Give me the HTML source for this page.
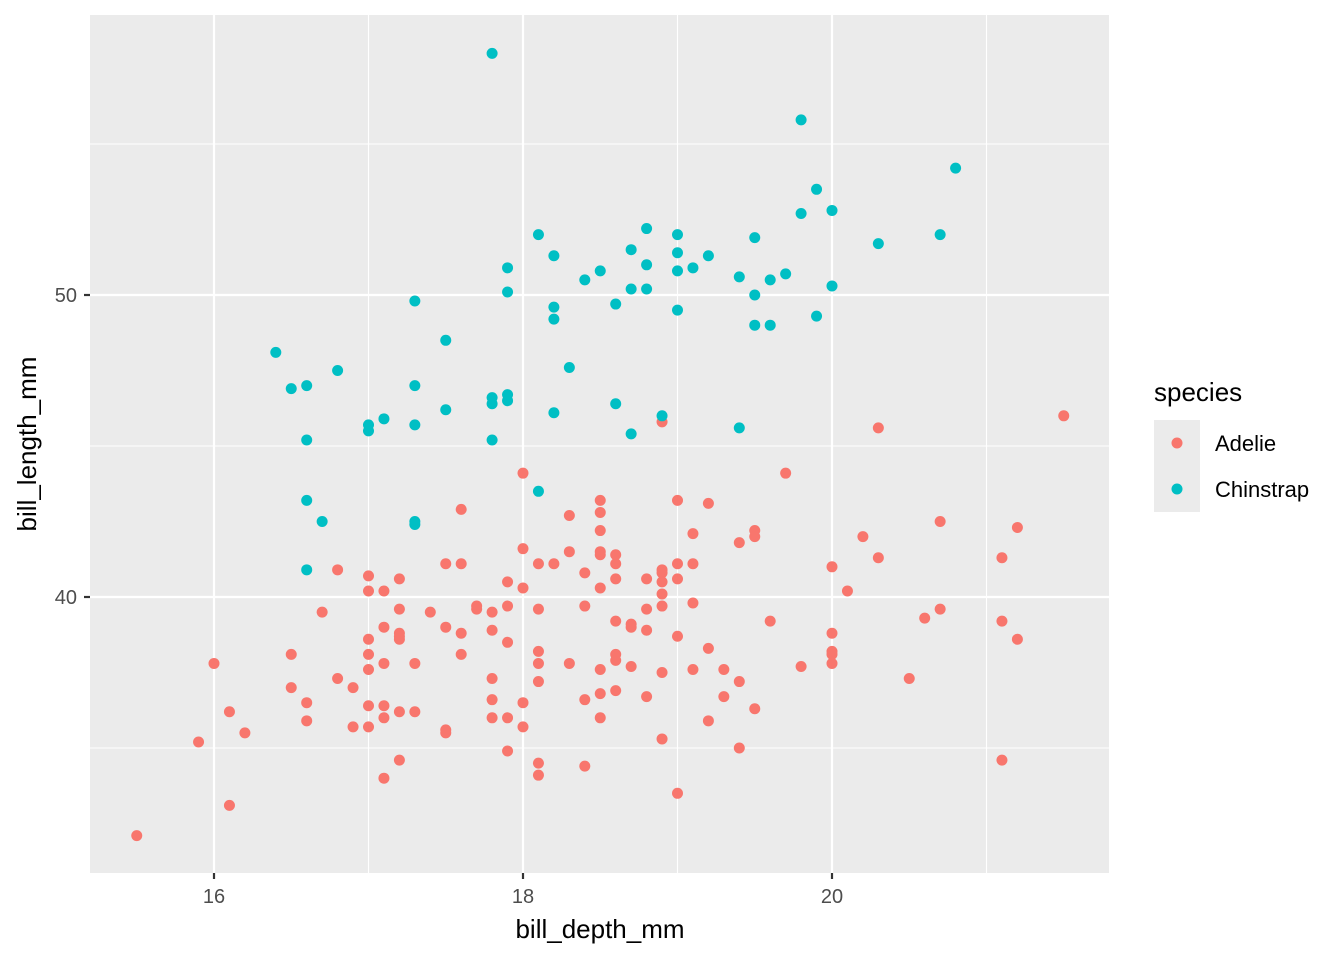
<!DOCTYPE html>
<html><head><meta charset="utf-8"><style>
body{margin:0;background:#fff;}
svg text{font-family:"Liberation Sans",Arial,sans-serif;}
</style></head><body>
<svg id="chart" width="1344" height="960" xmlns="http://www.w3.org/2000/svg">
<rect x="90" y="15" width="1019" height="858" fill="#EBEBEB"/>
<g id="grid"></g>
<g id="points"></g>
<g id="axes"></g>
<text x="600" y="938" font-size="26" text-anchor="middle" fill="#000">bill_depth_mm</text>
<text transform="translate(36,444) rotate(-90)" font-size="26" text-anchor="middle" fill="#000">bill_length_mm</text>
<g>
<text x="1154" y="401" font-size="26" fill="#000">species</text>
<rect x="1154" y="420" width="46" height="92" fill="#EBEBEB"/>
<circle cx="1177" cy="443" r="5.5" fill="#F8766D"/>
<circle cx="1177" cy="489" r="5.5" fill="#00BFC4"/>
<text x="1215" y="451" font-size="22" fill="#000">Adelie</text>
<text x="1215" y="497" font-size="22" fill="#000">Chinstrap</text>
</g>
</svg>
<script>
const xTicks=[16,18,20];
const xMinor=[15,17,19,21];
const yTicks=[40,50];
const yMinor=[35,45,55];
const chinstrapDepth=[17.8,19.8,20.8,19.9,19.8,20.0,20.3,20.7,18.1,18.8,19.0,19.5,18.7,19.0,19.2,18.2,17.9,18.8,19.1,19.0,18.5,18.4,19.4,19.6,19.7,18.7,18.8,17.9,19.5,20.0,17.3,18.6,18.2,19.0,18.2,19.5,19.6,19.9,17.5,16.4,16.8,18.3,16.5,16.6,17.3,17.8,17.9,17.8,17.9,18.6,17.5,18.2,18.9,17.1,17.0,17.0,17.3,19.4,18.7,16.6,17.8,18.1,16.6,16.7,17.3,17.3,16.6];
const chinstrapLength=[58.0,55.8,54.2,53.5,52.7,52.8,51.7,52.0,52.0,52.2,52.0,51.9,51.5,51.4,51.3,51.3,50.9,51.0,50.9,50.8,50.8,50.5,50.6,50.5,50.7,50.2,50.2,50.1,50.0,50.3,49.8,49.7,49.6,49.5,49.2,49.0,49.0,49.3,48.5,48.1,47.5,47.6,46.9,47.0,47.0,46.6,46.7,46.4,46.5,46.4,46.2,46.1,46.0,45.9,45.7,45.5,45.7,45.6,45.4,45.2,45.2,43.5,43.2,42.5,42.5,42.4,40.9];
const adelieDepth=[21.5,18.9,20.3,18.0,19.7,18.5,19.0,19.2,17.6,18.3,18.5,20.7,21.2,18.5,19.1,19.5,19.5,20.2,19.4,18.0,18.3,18.5,18.5,18.6,20.3,21.1,17.5,17.6,18.1,18.2,18.6,19.0,19.1,20.0,16.8,18.9,18.9,18.4,17.0,17.2,18.6,18.8,19.0,17.9,18.9,18.0,18.5,17.0,17.1,20.1,18.9,19.1,17.7,17.7,17.9,18.4,18.9,17.8,18.8,18.1,16.7,17.2,17.4,20.7,20.6,18.6,19.6,21.1,18.7,18.7,17.1,17.5,17.8,18.8,17.2,17.6,20.0,17.2,17.2,19.0,21.2,17.0,17.9,19.2,18.1,20.0,16.5,17.0,17.6,18.6,18.6,20.0,16.0,17.1,17.3,18.1,18.3,18.7,19.8,20.0,17.0,18.5,18.9,19.1,19.3,16.8,17.8,18.1,19.4,20.5,16.5,16.9,18.6,18.5,18.8,19.3,17.8,18.4,16.6,18.0,17.0,17.1,19.5,16.1,17.2,17.3,17.1,17.8,17.9,18.5,19.2,16.6,16.9,17.0,18.0,17.5,17.5,16.2,18.9,15.9,19.4,17.9,17.2,21.1,18.1,18.4,17.1,18.1,19.0,16.1,15.5];
const adelieLength=[46.0,45.8,45.6,44.1,44.1,43.2,43.2,43.1,42.9,42.7,42.8,42.5,42.3,42.2,42.1,42.2,42.0,42.0,41.8,41.6,41.5,41.5,41.4,41.4,41.3,41.3,41.1,41.1,41.1,41.1,41.1,41.1,41.1,41.0,40.9,40.9,40.8,40.8,40.7,40.6,40.6,40.6,40.6,40.5,40.5,40.3,40.3,40.2,40.2,40.2,40.1,39.8,39.7,39.6,39.7,39.7,39.7,39.5,39.6,39.6,39.5,39.6,39.5,39.6,39.3,39.2,39.2,39.2,39.1,39.0,39.0,39.0,38.9,38.9,38.8,38.8,38.8,38.7,38.6,38.7,38.6,38.6,38.5,38.3,38.2,38.2,38.1,38.1,38.1,38.1,37.9,38.1,37.8,37.8,37.8,37.8,37.8,37.7,37.7,37.8,37.6,37.6,37.5,37.6,37.6,37.3,37.3,37.2,37.2,37.3,37.0,37.0,36.9,36.8,36.7,36.7,36.6,36.6,36.5,36.5,36.4,36.4,36.3,36.2,36.2,36.2,36.0,36.0,36.0,36.0,35.9,35.9,35.7,35.7,35.7,35.6,35.5,35.5,35.3,35.2,35.0,34.9,34.6,34.6,34.5,34.4,34.0,34.1,33.5,33.1,32.1];

const NS='http://www.w3.org/2000/svg';
const L=90,R=1109,T=15,B=873;
function xs(v){return 214+(v-16)*154.5;}
function ys(v){return 597-(v-40)*30.2;}
function mk(tag,attrs,parent){const e=document.createElementNS(NS,tag);for(const k in attrs)e.setAttribute(k,attrs[k]);parent.appendChild(e);return e;}
const grid=document.getElementById('grid'),pts=document.getElementById('points'),axes=document.getElementById('axes');
xMinor.forEach(v=>{const x=xs(v);if(x<L||x>R)return;
 const l=mk('line',{x1:x,x2:x,y1:T,y2:B,stroke:'#fff','stroke-width':1.1},grid);
 
 });
yMinor.forEach(v=>{const y=ys(v);
 const l=mk('line',{x1:L,x2:R,y1:y,y2:y,stroke:'#fff','stroke-width':1.1},grid);
 
 });
xTicks.forEach(v=>{const x=xs(v);
 const l=mk('line',{x1:x,x2:x,y1:T,y2:B,stroke:'#fff','stroke-width':2.2},grid);
 
 
 const t=mk('line',{x1:x,x2:x,y1:B,y2:B+6,stroke:'#333','stroke-width':2.2},axes);
 
 
 const tx=mk('text',{x:x,y:903,'font-size':20,'text-anchor':'middle',fill:'#4D4D4D'},axes);tx.textContent=v;
 
 });
yTicks.forEach(v=>{const y=ys(v);
 const l=mk('line',{x1:L,x2:R,y1:y,y2:y,stroke:'#fff','stroke-width':2.2},grid);
 
 
 const t=mk('line',{x1:L-6,x2:L,y1:y,y2:y,stroke:'#333','stroke-width':2.2},axes);
 
 
 const tx=mk('text',{x:77,y:y+7,'font-size':20,'text-anchor':'end',fill:'#4D4D4D'},axes);tx.textContent=v;
 
 });
adelieDepth.forEach((d,i)=>{const c=mk('circle',{cx:xs(d),cy:ys(adelieLength[i]),r:5.5,fill:'#F8766D'},pts);
 
 });
chinstrapDepth.forEach((d,i)=>{const c=mk('circle',{cx:xs(d),cy:ys(chinstrapLength[i]),r:5.5,fill:'#00BFC4'},pts);
 
 });
</script>
</body></html>
